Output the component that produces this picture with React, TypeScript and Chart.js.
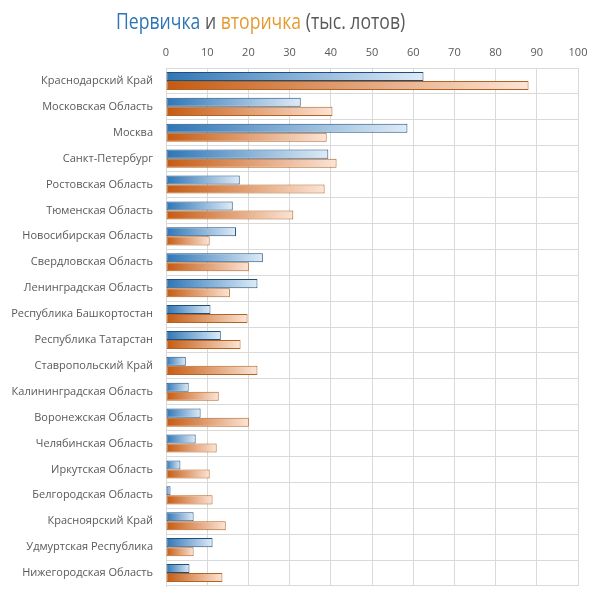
import React, { useEffect, useRef } from "react";
import { Chart, registerables } from "chart.js";

Chart.register(...registerables);

const categories = [
  "Краснодарский Край",
  "Московская Область",
  "Москва",
  "Санкт-Петербург",
  "Ростовская Область",
  "Тюменская Область",
  "Новосибирская Область",
  "Свердловская Область",
  "Ленинградская Область",
  "Республика Башкортостан",
  "Республика Татарстан",
  "Ставропольский Край",
  "Калининградская Область",
  "Воронежская Область",
  "Челябинская Область",
  "Иркутская Область",
  "Белгородская Область",
  "Красноярский Край",
  "Удмуртская Республика",
  "Нижегородская Область",
];

const primary = [62.5, 32.7, 58.6, 39.4, 17.9, 16.2, 17.0, 23.5, 22.2, 10.8, 13.3, 4.8, 5.5, 8.4, 7.2, 3.5, 1.1, 6.7, 11.3, 5.7];
const secondary = [88.0, 40.4, 39.0, 41.4, 38.5, 30.9, 10.6, 20.1, 15.5, 19.8, 18.1, 22.2, 12.8, 20.1, 12.3, 10.6, 11.3, 14.5, 6.7, 13.7];

const xTicks = [0, 10, 20, 30, 40, 50, 60, 70, 80, 90, 100];

const FONT = "'Open Sans', 'Noto Sans', sans-serif";

function gradientFill(from: string, to: string) {
  return (ctx: any) => {
    const chart = ctx.chart;
    const xs = chart.scales && chart.scales.x;
    if (!xs || ctx.type !== "data") return from;
    const v = ctx.raw as number;
    const x0 = xs.getPixelForValue(0);
    const x1 = xs.getPixelForValue(v);
    if (!isFinite(x0) || !isFinite(x1) || x1 - x0 < 1) return from;
    const g = chart.ctx.createLinearGradient(x0, 0, x1, 0);
    g.addColorStop(0, from);
    g.addColorStop(1, to);
    return g;
  };
}

export default function App() {
  const ref = useRef<HTMLCanvasElement | null>(null);

  useEffect(() => {
    document.body.style.margin = "0";
    if (!ref.current) return;
    const chart = new Chart(ref.current, {
      type: "bar",
      data: {
        labels: categories,
        datasets: [
          {
            label: "Первичка",
            data: primary,
            backgroundColor: gradientFill("#2E75B6", "#DEEBF7"),
            borderColor: "#1F4E79",
            borderWidth: 1,
            borderSkipped: false,
            categoryPercentage: 0.7,
            barPercentage: 1.0,
          },
          {
            label: "Вторичка",
            data: secondary,
            backgroundColor: gradientFill("#C55A11", "#FCE4D6"),
            borderColor: "#B3631F",
            borderWidth: 1,
            borderSkipped: false,
            categoryPercentage: 0.7,
            barPercentage: 1.0,
          },
        ],
      },
      options: {
        indexAxis: "y",
        animation: false,
        responsive: false,
        maintainAspectRatio: false,
        layout: { padding: { top: 40, right: 22, bottom: 13, left: 0 } },
        plugins: {
          legend: { display: false },
          title: { display: false },
          tooltip: { enabled: false },
        },
        scales: {
          x: {
            position: "top",
            min: 0,
            max: 100,
            afterBuildTicks: (scale: any) => {
              scale.ticks = xTicks.map((v) => ({ value: v }));
            },
            afterFit: (scale: any) => {
              scale.height = 28;
            },
            grid: { color: "#D9D9D9", lineWidth: 1, drawTicks: false },
            border: { display: false },
            ticks: {
              color: "#595959",
              font: { family: FONT, size: 11 },
              padding: 9,
            },
          },
          y: {
            afterFit: (scale: any) => {
              scale.width = 166;
              scale.paddingTop = 0;
              scale.paddingBottom = 0;
            },
            grid: { color: "#D9D9D9", lineWidth: 1, offset: true, drawTicks: false },
            border: { display: true, color: "#D9D9D9" },
            ticks: {
              color: "#595959",
              font: { family: FONT, size: 11 },
              padding: 13,
              autoSkip: false,
            },
          },
        },
      },
    });
    return () => chart.destroy();
  }, []);

  return (
    <div style={{ position: "relative", width: 600, height: 599 }}>
      <canvas ref={ref} width={600} height={599} style={{ display: "block" }} />
      <div
        style={{
          position: "absolute",
          left: 116,
          top: 5,
          fontFamily: FONT,
          fontSize: 22,
          color: "#595959",
          whiteSpace: "nowrap",
          lineHeight: "30px",
          transform: "scaleX(0.8)",
          transformOrigin: "left top",
        }}
      >
        <span style={{ color: "#2E75B6" }}>Первичка</span>
        <span> и </span>
        <span style={{ color: "#E59A30" }}>вторичка</span>
        <span> (тыс. лотов)</span>
      </div>
    </div>
  );
}
